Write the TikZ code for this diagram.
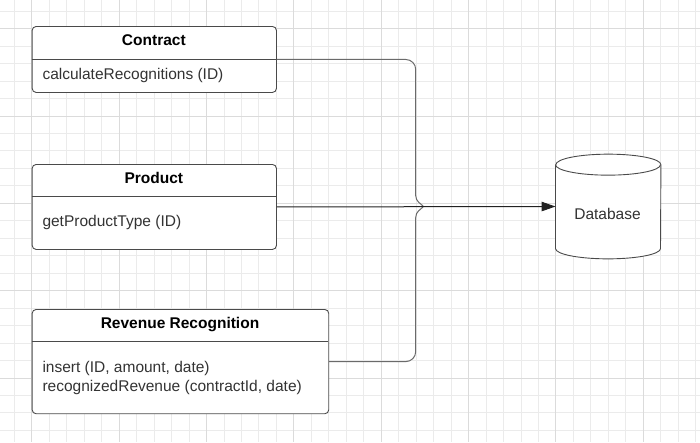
\documentclass[tikz,border=0pt]{standalone}
\usepackage{fontspec}
\setmainfont{Liberation Sans}
\usetikzlibrary{calc,arrows.meta}
\definecolor{gminor}{HTML}{EBEBEB}
\definecolor{gmajor}{HTML}{DBDBDB}
\definecolor{boxline}{HTML}{4A4A4A}
\definecolor{txt}{HTML}{333333}
\definecolor{connline}{HTML}{6A6A6A}
\definecolor{mainline}{HTML}{222222}
\tikzset{
  classbox/.style={draw=boxline, line width=0.9pt, rounded corners=4pt, fill=white, anchor=north west, inner sep=0pt},
  classtitle/.style={font=\bfseries\fontsize{15.5}{18}\selectfont, text=black, anchor=base, inner sep=0pt},
  classmethod/.style={font=\fontsize{15.5}{19.4}\selectfont, text=txt, anchor=base west, inner sep=0pt, align=left},
  divider/.style={draw=boxline, line width=0.9pt},
  branch/.style={draw=connline, line width=1pt},
  mainconn/.style={draw=mainline, line width=1pt, -{Triangle[length=14pt,width=9.5pt]}},
}
\begin{document}
\begin{tikzpicture}[x=1pt,y=-1pt]
\useasboundingbox (0,0) rectangle (700,442);
\fill[white] (0,0) rectangle (700,442);
% grid
\foreach \i in {-1,...,38} {
  \pgfmathsetmacro\xx{31.8+17.47*\i}
  \draw[gminor,line width=0.9pt] (\xx,0) -- (\xx,442);
}
\foreach \j in {-1,...,23} {
  \pgfmathsetmacro\yy{28.6+17.47*\j}
  \draw[gminor,line width=0.9pt] (0,\yy) -- (700,\yy);
}
\foreach \i in {0,...,7} {
  \pgfmathsetmacro\xx{31.8+87.35*\i}
  \draw[gmajor,line width=0.9pt] (\xx,0) -- (\xx,442);
}
\foreach \j in {0,...,4} {
  \pgfmathsetmacro\yy{28.6+87.35*\j}
  \draw[gmajor,line width=0.9pt] (0,\yy) -- (700,\yy);
}

% Contract
\node[classbox, minimum width=244.3pt, minimum height=66pt] (contract) at (31.7,26) {};
\draw[divider] (31.7,59) -- (276,59);
\node[classtitle] (contractT) at (153.85,45.7) {Contract};
\node[classmethod] (contractM) at (42.3,79.3) {calculateRecognitions (ID)};

% Product
\node[classbox, minimum width=244.3pt, minimum height=85pt] (product) at (31.7,164) {};
\draw[divider] (31.7,196.3) -- (276,196.3);
\node[classtitle] (productT) at (153.85,183.7) {Product};
\node[classmethod] (productM) at (42.3,226.7) {getProductType (ID)};

% Revenue Recognition
\node[classbox, minimum width=296.6pt, minimum height=104.3pt] (revenue) at (31.7,309) {};
\draw[divider] (31.7,341.7) -- (328.3,341.7);
\node[classtitle] (revenueT) at (180,328.7) {Revenue Recognition};
\node[classmethod] (revenueM) at (42.3,391.7) {insert (ID, amount, date)\\recognizedRevenue (contractId, date)};

% Database
\node[minimum width=105pt, minimum height=104.3pt, inner sep=0pt] (db) at (608.2,206.5) {};
\fill[white] ($(db.north west)+(0,10.5)$) -- ($(db.south west)+(0,-10.3)$)
  arc[start angle=180,end angle=360,x radius=52.5pt,y radius=10.3pt]
  -- ($(db.north east)+(0,10.5)$)
  arc[start angle=0,end angle=180,x radius=52.5pt,y radius=10.5pt] -- cycle;
\draw[boxline, line width=0.9pt] ($(db.north west)+(0,10.5)$) -- ($(db.south west)+(0,-10.3)$)
  arc[start angle=180,end angle=360,x radius=52.5pt,y radius=10.3pt]
  -- ($(db.north east)+(0,10.5)$)
  arc[start angle=0,end angle=180,x radius=52.5pt,y radius=10.5pt];
\draw[boxline, line width=0.9pt] ($(db.north west)+(0,10.5)$)
  arc[start angle=180,end angle=360,x radius=52.5pt,y radius=10.5pt];
\node[font=\fontsize{15.5}{18}\selectfont, text=txt, inner sep=0pt] (dbT) at (607.5,214.2) {Database};

% connectors
\coordinate (jx) at (415.7,206.5);
\coordinate (jm) at (423.5,206.5);
\draw[branch] (contract.east) -- ($(contract.east -| jx)+(-10,0)$)
  arc[start angle=90,end angle=0,radius=10pt]
  -- ($(jx)+(0,-11)$)
  .. controls ($(jx)+(0,-5)$) and ($(jx)+(5,-3)$) .. (jm);
\draw[branch] (revenue.east) -- ($(revenue.east -| jx)+(-10,0)$)
  arc[start angle=270,end angle=360,radius=10pt]
  -- ($(jx)+(0,11)$)
  .. controls ($(jx)+(0,5)$) and ($(jx)+(5,3)$) .. (jm);
\draw[mainconn] (product.east) -- (db.west);
\end{tikzpicture}
\end{document}
